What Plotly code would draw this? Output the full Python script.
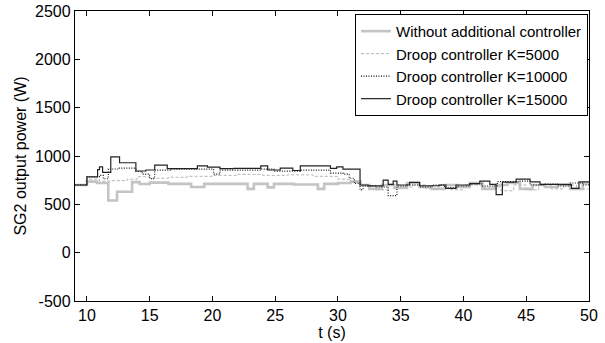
import plotly.graph_objects as go

# Step-series data (time in s, power in W)
t_without = [9.05, 10.0, 10.8, 11.7, 12.4, 13.6, 14.2, 15.0, 16.5, 18.3, 19.35, 22.8, 23.3, 24.4, 24.9,
             26.5, 28.4, 28.9, 30.0, 31.0, 31.8, 32.5, 33.5, 34.5, 35.5, 36.5, 37.5, 38.5, 39.5, 40.5,
             41.5, 42.5, 43.5, 44.5, 45.5, 46.5, 47.5, 48.5, 49.5, 50.0]
p_without = [700, 735, 720, 540, 630, 730, 710, 725, 712, 680, 712, 660, 712, 675, 712,
             705, 660, 712, 720, 735, 700, 660, 700, 670, 720, 680, 660, 700, 680, 720,
             660, 700, 720, 660, 700, 680, 700, 660, 715, 715]

t_k5000 = [9.05, 10.0, 11.0, 12.0, 13.2, 14.0, 15.0, 16.5, 18.0, 20.0, 22.0, 24.0, 26.0, 28.0, 30.0,
           31.0, 31.8, 33.0, 34.0, 35.0, 36.0, 37.0, 38.0, 39.0, 40.0, 41.5, 43.0, 44.0, 45.0, 46.0,
           47.0, 48.0, 49.0, 50.0]
p_k5000 = [700, 760, 740, 745, 760, 785, 770, 780, 790, 800, 810, 800, 805, 790, 760,
           740, 690, 650, 700, 680, 700, 660, 700, 650, 700, 680, 640, 700, 650, 700,
           660, 700, 660, 660]

t_k10000 = [9.05, 10.0, 11.0, 11.3, 11.7, 12.5, 13.9, 14.4, 15.0, 15.4, 16.7, 19.6, 20.1, 20.6, 23.85,
            24.9, 27.0, 29.4, 30.4, 30.9, 31.3, 31.76, 32.0, 33.0, 34.0, 34.7, 35.5, 36.5, 37.5, 38.5,
            39.5, 40.5, 41.5, 42.7, 44.5, 45.3, 46.5, 47.5, 48.5, 49.5, 50.0]
p_k10000 = [700, 785, 800, 765, 865, 875, 840, 812, 766, 854, 864, 864, 812, 854, 864,
            844, 854, 823, 812, 770, 717, 650, 690, 680, 590, 690, 700, 680, 700, 670,
            690, 710, 690, 735, 740, 700, 710, 690, 720, 700, 700]

t_k15000 = [9.05, 10.0, 10.85, 11.0, 11.25, 11.9, 12.6, 13.9, 14.7, 15.4, 16.4, 18.8, 19.6, 20.6, 21.7,
            23.85, 24.4, 25.4, 26.4, 27.0, 29.4, 29.9, 30.4, 31.76, 32.4, 33.6, 34.0, 34.4, 34.7, 35.7,
            36.5, 38.1, 38.6, 39.4, 40.5, 41.3, 42.1, 42.6, 43.1, 44.2, 45.3, 46.1, 47.5, 48.6, 49.2, 50.0]
p_k15000 = [700, 785, 860, 888, 830, 990, 930, 845, 855, 905, 870, 898, 885, 870, 871,
            898, 855, 875, 850, 898, 871, 888, 864, 700, 690, 750, 706, 740, 700, 727,
            692, 700, 665, 700, 714, 740, 706, 600, 730, 760, 733, 706, 706, 665, 733, 733]

x_ticks = [10, 15, 20, 25, 30, 35, 40, 45, 50]
y_ticks = [-500, 0, 500, 1000, 1500, 2000, 2500]

FONT = "Liberation Sans, Arial, sans-serif"

fig = go.Figure()
fig.add_trace(go.Scatter(x=t_without, y=p_without, mode="lines", line_shape="hv",
                         name="Without additional controller",
                         line=dict(color="#c4c4c4", width=2.6)))
fig.add_trace(go.Scatter(x=t_k5000, y=p_k5000, mode="lines", line_shape="hv",
                         name="Droop controller K=5000",
                         line=dict(color="#b4b4b4", width=1, dash="3px,2px")))
fig.add_trace(go.Scatter(x=t_k10000, y=p_k10000, mode="lines", line_shape="hv",
                         name="Droop controller K=10000",
                         line=dict(color="#111111", width=1.1, dash="1px,1.5px")))
fig.add_trace(go.Scatter(x=t_k15000, y=p_k15000, mode="lines", line_shape="hv",
                         name="Droop controller K=15000",
                         line=dict(color="#222222", width=1.2)))

axis_common = dict(showline=True, linecolor="black", linewidth=1.3, mirror="ticks",
                   ticks="inside", ticklen=5, tickcolor="black", showgrid=False, zeroline=False,
                   automargin=False,
                   tickfont=dict(family=FONT, size=16, color="black"))

fig.update_layout(
    width=605, height=343,
    margin=dict(l=75, r=16, t=11, b=42),
    paper_bgcolor="white", plot_bgcolor="white",
    font=dict(family=FONT, size=16, color="black"),
    xaxis=dict(range=[9.05, 50], tickvals=x_ticks, ticktext=[str(v) for v in x_ticks],
               title=dict(text="t (s)", font=dict(family=FONT, size=16), standoff=0),
               **axis_common),
    yaxis=dict(range=[-500, 2500], tickvals=y_ticks, ticktext=[str(v) for v in y_ticks],
               title=dict(text="SG2 output power (W)", font=dict(family=FONT, size=16), standoff=4),
               **axis_common),
    legend=dict(x=0.998, y=0.99, xanchor="right", yanchor="top",
                bgcolor="white", bordercolor="black", borderwidth=1,
                font=dict(family=FONT, size=15), tracegroupgap=0,
                itemwidth=30),
    showlegend=True,
)

fig.write_html("out.html")
